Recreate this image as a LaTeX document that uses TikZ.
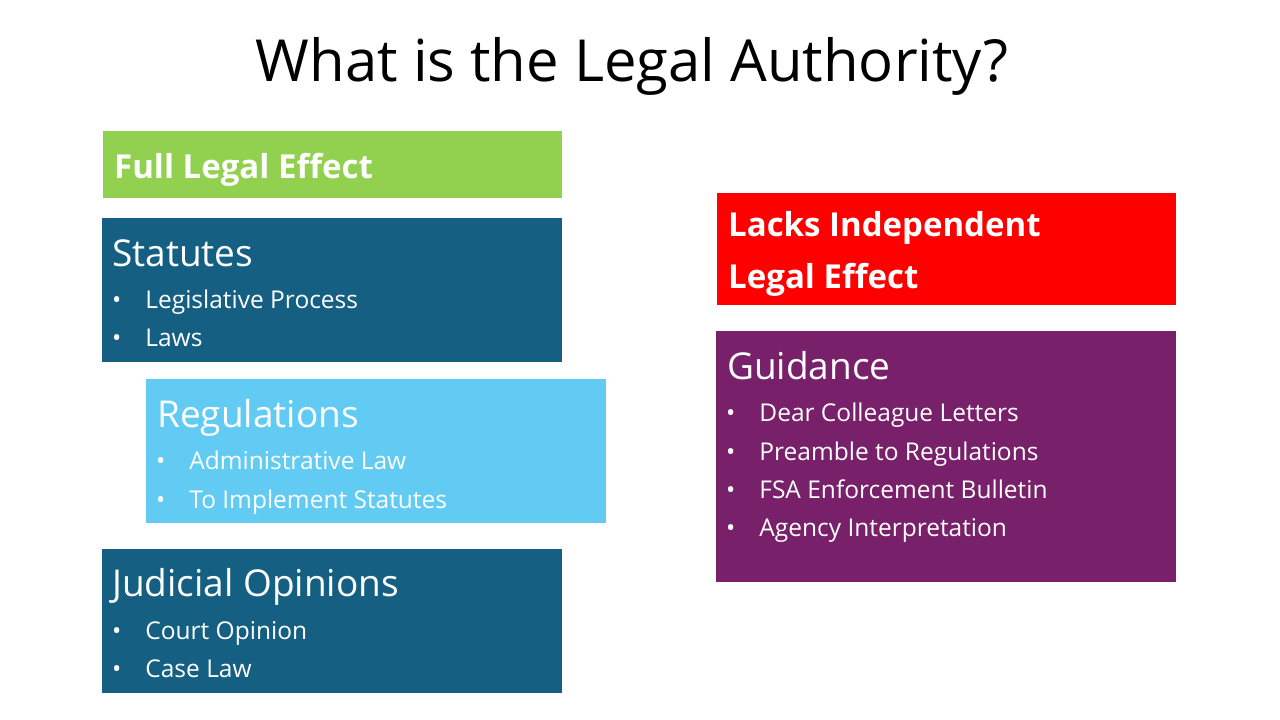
\documentclass[tikz,border=0pt]{standalone}
\usepackage{fontspec}
\setmainfont{Open Sans}
\definecolor{cgreen}{RGB}{146,208,80}
\definecolor{cteal}{RGB}{21,96,130}
\definecolor{clblue}{RGB}{97,203,243}
\definecolor{cred}{RGB}{255,0,0}
\definecolor{cpurple}{RGB}{120,32,106}
\begin{document}
\begin{tikzpicture}[x=1pt,y=-1pt,
  head/.style={anchor=base west,inner sep=0pt,text=white,font=\fontsize{37}{44}\selectfont},
  bhead/.style={anchor=base west,inner sep=0pt,text=white,font=\fontsize{33}{40}\bfseries\selectfont},
  item/.style={anchor=base west,inner sep=0pt,text=white,font=\fontsize{24.5}{30}\selectfont}]
\useasboundingbox (0,0) rectangle (1280,720);
\node[anchor=base,inner sep=0pt] (title) at (632,81) {\fontsize{58}{66}\selectfont What is the Legal Authority?};
\fill[cgreen] (103,131) rectangle (562,198);
\node[bhead] (fle) at (114,178) {Full Legal Effect};
\fill[cteal] (102,218) rectangle (562,362);
\node[head] (st) at (112,266) {Statutes};
\node[item] (s1) at (112,308) {•\hspace{24pt}Legislative Process};
\node[item] (s2) at (112,346) {•\hspace{24pt}Laws};
\fill[clblue] (146,379) rectangle (606,523);
\node[head] (rg) at (157,427) {Regulations};
\node[item] (r1) at (156,469) {•\hspace{24pt}Administrative Law};
\node[item] (r2) at (156,508) {•\hspace{24pt}To Implement Statutes};
\fill[cteal] (102,549) rectangle (562,693);
\node[head] (jo) at (112,596) {Judicial Opinions};
\node[item] (j1) at (112,639) {•\hspace{24pt}Court Opinion};
\node[item] (j2) at (112,677) {•\hspace{24pt}Case Law};
\fill[cred] (717,193) rectangle (1176,305);
\node[bhead] (lie1) at (728,236) {Lacks Independent};
\node[bhead] (lie2) at (728,288) {Legal Effect};
\fill[cpurple] (716,331) rectangle (1176,582);
\node[head] (gd) at (727,379) {Guidance};
\node[item] (g1) at (726,421) {•\hspace{24pt}Dear Colleague Letters};
\node[item] (g2) at (726,460) {•\hspace{24pt}Preamble to Regulations};
\node[item] (g3) at (726,498) {•\hspace{24pt}FSA Enforcement Bulletin};
\node[item] (g4) at (726,536) {•\hspace{24pt}Agency Interpretation};
\end{tikzpicture}
\end{document}
